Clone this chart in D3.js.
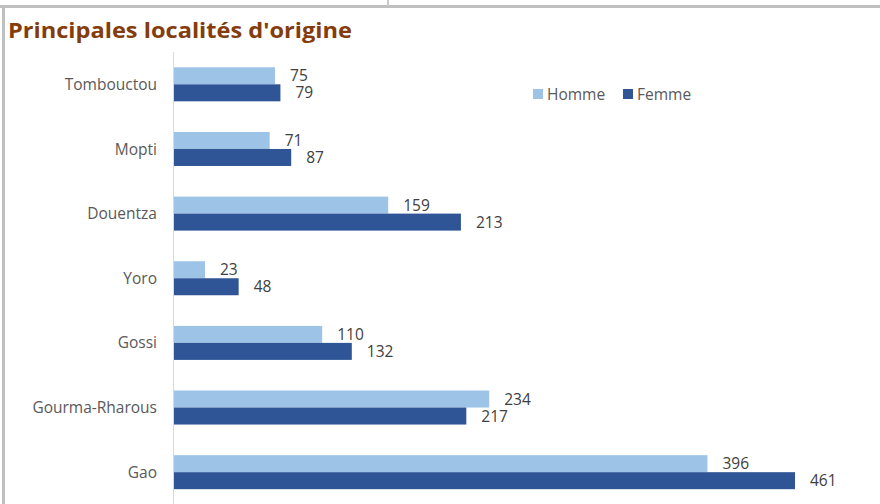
<!DOCTYPE html>
<html><head><meta charset="utf-8">
<script src="https://cdn.jsdelivr.net/npm/d3@7"></script>
<style>body{margin:0;background:#fff}svg{display:block}</style>
</head><body>
<script>
const categories = ["Tombouctou","Mopti","Douentza","Yoro","Gossi","Gourma-Rharous","Gao"];
const homme = [75,71,159,23,110,234,396];
const femme = [79,87,213,48,132,217,461];
const seriesNames = ["Homme","Femme"];
const colors = ["#9DC3E6","#2F5597"];
const title = "Principales localités d'origine";

const W=880,H=504;
const svg=d3.select("body").append("svg").attr("width",W).attr("height",H);
const font="'Open Sans', sans-serif";
const fs=15.5;

// frame lines
svg.append("rect").attr("x",0).attr("y",5).attr("width",W).attr("height",3).attr("fill","#c0c0c0");
svg.append("rect").attr("x",2).attr("y",5).attr("width",3).attr("height",H).attr("fill","#c0c0c0");
svg.append("rect").attr("x",387).attr("y",0).attr("width",2).attr("height",6).attr("fill","#c8c8c8");

svg.append("text").attr("x",8).attr("y",38).text(title)
  .attr("font-family",font).attr("font-weight","bold").attr("font-size",22).attr("fill","#843C0C")
  .attr("textLength",344).attr("lengthAdjust","spacingAndGlyphs");

const x=d3.scaleLinear().domain([0,461]).range([174,795]);
const y=d3.scaleBand().domain(categories).range([52,504.5]);
const inner=d3.scaleBand().domain(seriesNames).range([0,34]);

svg.append("line").attr("x1",173.5).attr("x2",173.5).attr("y1",52).attr("y2",H)
  .attr("stroke","#d9d9d9").attr("stroke-width",1);

const data=categories.map((c,i)=>({c,vals:[homme[i],femme[i]]}));
const g=svg.append("g");
data.forEach(d=>{
  const cy=y(d.c)+y.bandwidth()/2;
  d.vals.forEach((v,j)=>{
    const top=cy-17+inner(seriesNames[j]);
    g.append("rect").attr("x",x(0)).attr("y",top).attr("width",x(v)-x(0)).attr("height",inner.bandwidth())
      .attr("fill",colors[j]);
    g.append("text").attr("x",x(v)+15).attr("y",top+inner.bandwidth()/2).attr("dy","0.36em")
      .text(v).attr("font-family",font).attr("font-size",fs).attr("fill","#404040");
  });
  g.append("text").attr("x",157).attr("y",cy).attr("dy","0.36em").attr("text-anchor","end")
    .text(d.c).attr("font-family",font).attr("font-size",fs).attr("fill","#595959");
});

// legend
const lx=[533,623];
seriesNames.forEach((s,j)=>{
  svg.append("rect").attr("x",lx[j]).attr("y",89).attr("width",10).attr("height",10).attr("fill",colors[j]);
  svg.append("text").attr("x",lx[j]+14).attr("y",94).attr("dy","0.36em").text(s)
    .attr("font-family",font).attr("font-size",fs).attr("fill","#595959");
});
</script>
</body></html>
